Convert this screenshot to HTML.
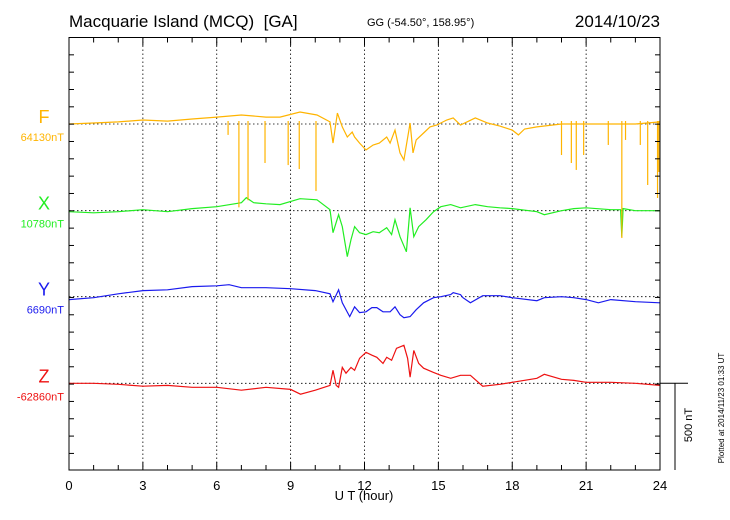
<!DOCTYPE html>
<html><head><meta charset="utf-8"><style>
body{margin:0;background:#fff;}
svg{display:block;font-family:"Liberation Sans",sans-serif;}
</style></head><body>
<svg id="chart" width="730" height="520" viewBox="0 0 730 520">
<text x="69" y="27" font-size="17">Macquarie Island (MCQ)&#160; [GA]</text>
<text x="367" y="26" font-size="11">GG (-54.50°, 158.95°)</text>
<text x="660" y="27" font-size="17" text-anchor="end">2014/10/23</text>
<g id="grid"></g>
<g id="series"></g>
<g id="axes"></g>
<text x="364" y="500" font-size="13" text-anchor="middle">U T (hour)</text>
<line x1="660" y1="383.3" x2="688" y2="383.3" stroke="#000"/>
<line x1="675" y1="383.3" x2="675" y2="470" stroke="#000"/>
<text transform="translate(692,425) rotate(-90)" font-size="11" text-anchor="middle">500 nT</text>
<text transform="translate(724,408) rotate(-90)" font-size="8" text-anchor="middle">Plotted at 2014/11/23 01:33 UT</text>
</svg>
<script>
const xTicks=[0,3,6,9,12,15,18,21,24];
const compNames=["F","X","Y","Z"];
const compBaselines=["64130nT","10780nT","6690nT","-62860nT"];
const compColors=["#ffb400","#22ee22","#1a1aee","#ee1111"];
const fHours=[0,1,2,3,4,5,6,7,8,8.57,9.38,10.07,10.6,10.72,10.9,11.1,11.3,11.5,11.6,11.8,12.06,12.35,12.6,12.9,13.04,13.24,13.44,13.6,13.85,13.97,14.1,14.4,14.66,14.94,15.34,15.6,15.9,16.5,17,17.5,18,18.25,18.5,19,20,21,22,23,24];
const fValues=[0,6,12,23,17,29,40,52,40,40,69,52,12,-110,63,-17,-75,-46,-75,-110,-150,-121,-110,-75,-110,-35,-167,-208,6,-167,-92,-52,-17,-6,23,35,-6,35,6,-12,-35,-63,-29,-17,0,0,0,0,12];
const fSpikeHours=[6.46,6.9,7.27,7.96,8.9,9.35,10.03,20.0,20.4,20.6,20.9,21.9,22.45,22.6,23.2,23.5,23.9,23.95];
const fSpikeValues=[-63,-481,-440,-225,-237,-260,-387,-179,-225,-265,-179,-121,-658,-92,-121,-352,-427,-277];
const xHours=[0,1,2,3,4,5,6,7,7.2,7.5,8,8.57,9.38,10.07,10.6,10.72,10.95,11.1,11.3,11.45,11.6,11.8,12.06,12.35,12.6,12.9,13.1,13.24,13.44,13.7,13.85,14.0,14.2,14.5,14.8,15.1,15.5,15.9,16.5,17,17.5,18,19,19.3,20,20.5,21,22,22.4,22.45,22.5,23,24];
const xValues=[-6,-12,-6,6,-6,12,23,46,75,46,40,35,69,63,6,-127,-23,-92,-265,-167,-92,-127,-138,-121,-127,-98,-138,-52,-150,-237,17,-150,-92,-52,-6,23,35,17,35,23,17,12,-6,-23,0,12,17,6,6,-150,12,0,0];
const yHours=[0,1,2,3,4,5,6,6.5,7,8,9,10,10.6,10.72,10.95,11.1,11.4,11.6,11.8,12.06,12.3,12.5,12.75,13.04,13.24,13.44,13.6,13.85,14.1,14.4,14.8,15.1,15.5,15.6,15.9,16,16.3,16.8,17.5,18,19,19.3,20,20.5,21,21.5,22,23,24];
const yValues=[-17,-6,17,35,40,58,63,69,52,52,46,35,17,-29,40,-35,-115,-58,-92,-87,-63,-63,-87,-87,-58,-104,-121,-115,-75,-35,-6,0,12,23,12,-6,-35,6,6,-6,-23,-6,0,-6,-17,-35,-17,-29,-35];
const zHours=[0,1,2,3,4,5,6,7,8,9,9.4,10,10.5,10.6,10.72,10.85,10.95,11.1,11.25,11.45,11.6,11.8,12.06,12.3,12.5,12.75,12.9,13.1,13.3,13.6,13.75,13.85,14.0,14.2,14.4,14.8,15.1,15.5,15.9,16.3,16.8,17.5,18,19,19.3,20,20.5,21,22,23,24];
const zValues=[0,0,-6,-17,-12,-23,-23,-40,-23,-35,-63,-40,-17,-12,75,-12,-23,92,58,92,75,144,179,162,150,115,150,133,202,219,144,35,190,115,87,63,46,29,46,46,-17,-6,6,29,52,23,17,6,6,0,-12];

const NS="http://www.w3.org/2000/svg";
const L=69,R=660,T=37.5,B=470,TICK=17.33;
const baselineY=[124,210.7,296.7,383.3];
const xs=h=>L+(R-L)*h/24;
const ys=(i,v)=>baselineY[i]-v*TICK/100;
function mk(tag,attrs,parent){const e=document.createElementNS(NS,tag);for(const k in attrs)e.setAttribute(k,attrs[k]);parent.appendChild(e);return e;}
const grid=document.getElementById('grid'),axes=document.getElementById('axes'),ser=document.getElementById('series');
xTicks.forEach(t=>{if(t>0&&t<24){const g=mk('line',{x1:xs(t),x2:xs(t),y1:T,y2:B,stroke:'#000','stroke-width':0.8,'stroke-dasharray':'1.5,2.5'},grid);

}
const lb=mk('text',{x:xs(t),y:490,'font-size':13,'text-anchor':'middle'},axes);lb.textContent=t;

});
baselineY.forEach((y,i)=>{const g=mk('line',{x1:L,x2:R,y1:y,y2:y,stroke:'#000','stroke-width':0.8,'stroke-dasharray':'1.5,2.5'},grid);

});
for(let h=0;h<=24;h++){const len=h%3===0?8:5;
mk('line',{x1:xs(h),x2:xs(h),y1:B,y2:B-len,stroke:'#000'},axes);
mk('line',{x1:xs(h),x2:xs(h),y1:T,y2:T+len,stroke:'#000'},axes);}
for(let y=T+TICK;y<B-1;y+=TICK){mk('line',{x1:L,x2:L+5,y1:y,y2:y,stroke:'#000'},axes);mk('line',{x1:R,x2:R-5,y1:y,y2:y,stroke:'#000'},axes);}
const fr=mk('rect',{x:L,y:T,width:R-L,height:B-T,fill:'none',stroke:'#000','stroke-width':1},axes);


const all=[[fHours,fValues],[xHours,xValues],[yHours,yValues],[zHours,zValues]];
all.forEach((s,i)=>{const d=s[0].map((h,j)=>(j?'L':'M')+xs(h).toFixed(1)+','+ys(i,s[1][j]).toFixed(1)).join('');
const p=mk('path',{d:d,fill:'none',stroke:compColors[i],'stroke-width':1.2},ser);


const t=mk('text',{x:44,y:baselineY[i]-1,'font-size':18,'text-anchor':'middle',fill:compColors[i]},axes);t.textContent=compNames[i];


const b=mk('text',{x:64,y:baselineY[i]+17,'font-size':11,'text-anchor':'end',fill:compColors[i]},axes);b.textContent=compBaselines[i];

});
fSpikeHours.forEach((h,j)=>{const s=mk('line',{x1:xs(h),x2:xs(h),y1:ys(0,0)-3,y2:ys(0,fSpikeValues[j]),stroke:compColors[0],'stroke-width':1.2},ser);

});
</script>
</body></html>
